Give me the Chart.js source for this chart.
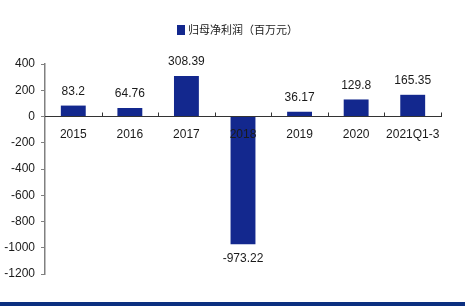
<!DOCTYPE html>
<html>
<head>
<meta charset="utf-8">
<script src="https://cdn.jsdelivr.net/npm/chart.js@4/dist/chart.umd.min.js"></script>
<style>
  html, body { margin: 0; padding: 0; background: #fff; }
  #wrap { position: relative; width: 465px; height: 306px; overflow: hidden; }
  #strip { position: absolute; left: 0; right: 0; bottom: 0; height: 4px; background: #0b2f80; }
</style>
</head>
<body>
<div id="wrap">
  <canvas id="chartLaba" width="465" height="306"></canvas>
  <div id="strip"></div>
</div>
<script>
const categories = ['2015', '2016', '2017', '2018', '2019', '2020', '2021Q1-3'];
const labaBersih = [83.2, 64.76, 308.39, -973.22, 36.17, 129.8, 165.35];
const seriesName = '归母净利润（百万元）';
const yMin = -1200;
const yMax = 400;
const yStep = 200;

const barColor = '#13288e';
const fontFamily = 'Arial, "Liberation Sans", "Noto Sans CJK SC", sans-serif';

// label angka di atas / bawah batang
const valueLabels = {
    id: 'valueLabels',
    afterDatasetsDraw(chart) {
        const { ctx } = chart;
        const meta = chart.getDatasetMeta(0);
        ctx.save();
        ctx.font = '12px ' + fontFamily;
        ctx.fillStyle = '#1a1a1a';
        ctx.textAlign = 'center';
        meta.data.forEach((bar, i) => {
            const v = labaBersih[i];
            if (v >= 0) {
                ctx.textBaseline = 'bottom';
                ctx.fillText(String(v), bar.x, bar.y - 8);
            } else {
                ctx.textBaseline = 'top';
                ctx.fillText(String(v), bar.x, bar.y + 8);
            }
        });
        ctx.restore();
    }
};

// tanda kecil ke atas di garis sumbu x (batas kategori)
const xTicksUp = {
    id: 'xTicksUp',
    afterDatasetsDraw(chart) {
        const { ctx } = chart;
        const xs = chart.scales.x;
        const y0 = chart.scales.y.getPixelForValue(0);
        const half = (xs.getPixelForValue(1) - xs.getPixelForValue(0)) / 2;
        ctx.save();
        ctx.strokeStyle = '#333';
        ctx.lineWidth = 1;
        for (let i = 0; i < categories.length; i++) {
            const x = Math.round(xs.getPixelForValue(i) + half) + 0.5;
            ctx.beginPath();
            ctx.moveTo(x, y0);
            ctx.lineTo(x, y0 - 4);
            ctx.stroke();
        }
        ctx.restore();
    }
};

// legenda manual di atas grafik
const legendAtas = {
    id: 'legendAtas',
    afterDraw(chart) {
        const { ctx } = chart;
        ctx.save();
        ctx.font = '11px "Noto Sans CJK SC", sans-serif';
        const w = 8 + 3 + ctx.measureText(seriesName).width;
        const x0 = Math.round((chart.width - w) / 2) + 5;
        const cy = 30;
        ctx.fillStyle = barColor;
        ctx.fillRect(x0, cy - 5, 8, 10);
        ctx.fillStyle = '#1a1a1a';
        ctx.textAlign = 'left';
        ctx.textBaseline = 'middle';
        ctx.fillText(seriesName, x0 + 11, cy);
        ctx.restore();
    }
};

new Chart(document.getElementById('chartLaba'), {
    type: 'bar',
    data: {
        labels: categories,
        datasets: [{
            label: seriesName,
            data: labaBersih,
            backgroundColor: barColor,
            borderWidth: 0,
            barPercentage: 0.88,
            categoryPercentage: 0.5
        }]
    },
    options: {
        responsive: false,
        animation: false,
        layout: { padding: { top: 64, right: 24, bottom: 32, left: 0 } },
        plugins: {
            legend: { display: false },
            tooltip: { enabled: false }
        },
        scales: {
            x: {
                position: { y: 0 },
                grid: { display: false },
                border: { display: true, color: '#333', width: 1, z: 1 },
                ticks: { z: 1, color: '#1a1a1a', padding: 3, font: { size: 12, family: fontFamily }, maxRotation: 0, autoSkip: false }
            },
            y: {
                min: yMin,
                max: yMax,
                afterFit: (scale) => { scale.width = 45; },
                grid: { display: true, drawOnChartArea: false, drawTicks: true, tickLength: 4, color: '#808080' },
                border: { display: true, color: '#808080', width: 1.5 },
                ticks: {
                    stepSize: yStep,
                    color: '#1a1a1a',
                    padding: 6,
                    font: { size: 12, family: fontFamily },
                    callback: (v) => String(v)
                }
            }
        }
    },
    plugins: [valueLabels, xTicksUp, legendAtas]
});
</script>
</body>
</html>
